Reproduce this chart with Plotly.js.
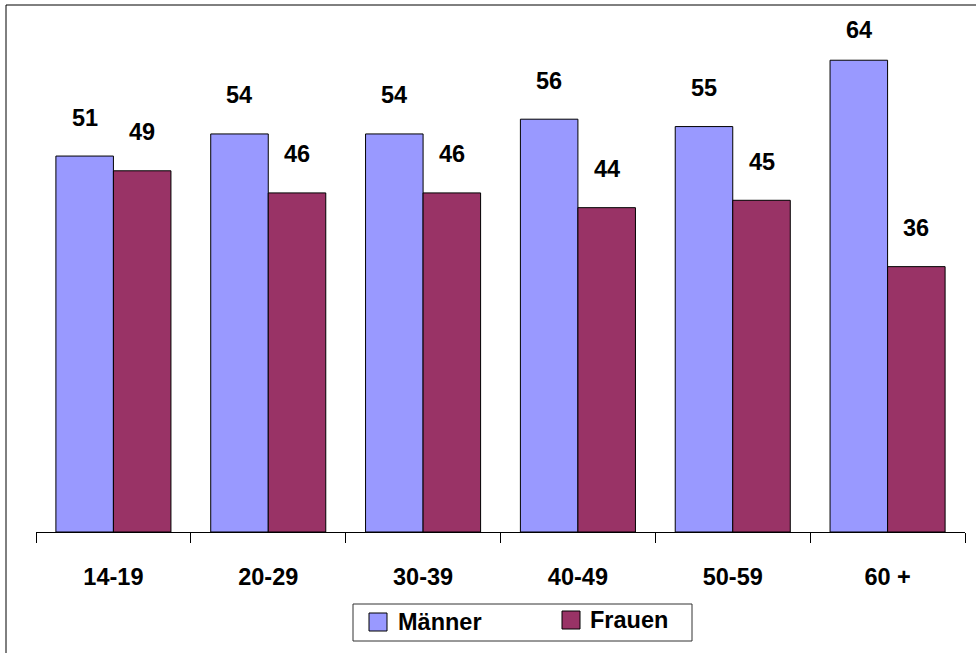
<!DOCTYPE html>
<html>
<head>
<meta charset="utf-8">
<script src="https://cdn.plot.ly/plotly-3.0.1.min.js"></script>
<style>
  html, body { margin: 0; padding: 0; background: #fff; }
  #chart { width: 976px; height: 653px; }
</style>
</head>
<body>
<div id="chart"></div>
<script>
// Age groups and shares (%) by gender
const ageGroups = ['14-19', '20-29', '30-39', '40-49', '50-59', '60 +'];
const maenner = [51, 54, 54, 56, 55, 64];
const frauen  = [49, 46, 46, 44, 45, 36];
const seriesNames = ['Männer', 'Frauen'];
const seriesColors = ['#9999FF', '#993366'];

const W = 976, H = 653;
const margin = { l: 36, r: 11, t: 16, b: 121, autoexpand: false };
const yMax = 70;
const bargap = 0.257;
const FONT = 'Arial, "Liberation Sans", sans-serif';
const FS = 23.5;

const plotW = W - margin.l - margin.r;
const plotH = H - margin.t - margin.b;
const pxPerUnit = plotH / yMax;
const barW = (plotW / ageGroups.length) * (1 - bargap) / 2;

// value labels sit above each bar, kept inside the plot area near the top
function labelShift(v) {
  return Math.min(38.5, (yMax - v) * pxPerUnit - 13.5);
}

const traces = [maenner, frauen].map((vals, i) => ({
  type: 'bar',
  name: seriesNames[i],
  x: ageGroups,
  y: vals,
  marker: { color: seriesColors[i], line: { color: '#000', width: 1 } },
  hoverinfo: 'skip',
  showlegend: false
}));

const boldFont = { family: FONT, size: FS, color: '#000', weight: 'bold' };

const annotations = [];
[maenner, frauen].forEach((vals, i) => {
  vals.forEach((v, j) => {
    annotations.push({
      x: ageGroups[j], y: v, xref: 'x', yref: 'y',
      text: String(v), showarrow: false,
      xshift: (i === 0 ? -1 : 1) * barW / 2,
      yshift: labelShift(v),
      yanchor: 'middle',
      font: boldFont
    });
  });
});

// pixel -> paper coordinate helpers for frame and legend
const px2x = X => (X - margin.l) / plotW;
const px2y = Y => (H - margin.b - Y) / plotH;

const shapes = [
  // outer frame lines (top and left edge of the chart area)
  { type: 'line', xref: 'paper', yref: 'paper', x0: px2x(6), x1: px2x(976), y0: px2y(5), y1: px2y(5), line: { color: '#000', width: 1 } },
  { type: 'line', xref: 'paper', yref: 'paper', x0: px2x(6), x1: px2x(6), y0: px2y(5), y1: px2y(653), line: { color: '#000', width: 1 } },
  // legend box
  { type: 'rect', xref: 'paper', yref: 'paper', x0: px2x(353), x1: px2x(692), y0: px2y(604), y1: px2y(641), line: { color: '#333', width: 1 }, fillcolor: 'rgba(0,0,0,0)' }
];

// legend entries: colour key + name
const legendKeys = [
  { x: 369, y: 622, tx: 396 },
  { x: 562, y: 620, tx: 588 }
];
legendKeys.forEach((k, i) => {
  shapes.push({
    type: 'rect', xref: 'paper', yref: 'paper',
    x0: px2x(k.x), x1: px2x(k.x + 18), y0: px2y(k.y + 9), y1: px2y(k.y - 9),
    fillcolor: seriesColors[i], line: { color: '#000', width: 1 }
  });
  annotations.push({
    xref: 'paper', yref: 'paper', x: px2x(k.tx), y: px2y(k.y),
    xanchor: 'left', yanchor: 'middle', showarrow: false,
    text: seriesNames[i], font: boldFont
  });
});

const layout = {
  width: W, height: H,
  margin: margin,
  paper_bgcolor: '#fff', plot_bgcolor: '#fff',
  barmode: 'group', bargap: bargap, bargroupgap: 0,
  showlegend: false,
  xaxis: {
    type: 'category',
    showline: true, linecolor: '#000', linewidth: 1,
    ticks: 'outside', ticklen: 10, tickcolor: '#000', tickwidth: 1,
    tickson: 'boundaries',
    showgrid: false, zeroline: false,
    ticklabelstandoff: 24,
    tickfont: boldFont,
    fixedrange: true
  },
  yaxis: {
    range: [0, yMax],
    visible: false, showgrid: false, zeroline: false,
    fixedrange: true
  },
  annotations: annotations,
  shapes: shapes
};

Plotly.newPlot('chart', traces, layout, { displayModeBar: false, staticPlot: true });
</script>
</body>
</html>
